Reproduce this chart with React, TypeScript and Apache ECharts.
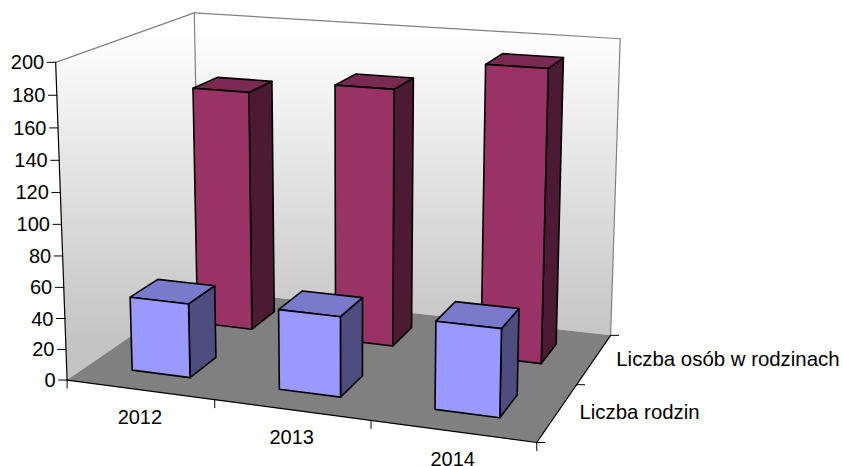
import React, { useEffect, useRef } from "react";
import * as echarts from "echarts";

const categories = ["2012", "2013", "2014"];
const rowNames = ["Liczba rodzin", "Liczba osób w rodzinach"];
const familyCounts = [48, 51, 55];
const peopleCounts = [162, 171, 191];
const valueTicks = [0, 20, 40, 60, 80, 100, 120, 140, 160, 180, 200];
const VALUE_MAX = 200;

const FONT = '20px "Liberation Sans", Arial, sans-serif';
const ROW_FONT = '20.4px "Liberation Sans", Arial, sans-serif';
const GAP = 0.3; // each side of a bar inside its unit cell (gap width 150%)

// Camera calibration of the 3D box: [category pos, row pos, relative height] -> screen.
const CAMERA_REFS: number[][] = [
  [0, 0, 0, 68, 379], [0, 0, 1, 55, 62], [0, 2, 0, 198, 289], [0, 2, 1, 195, 13],
  [3, 2, 0, 610, 335], [3, 2, 1, 620, 39], [3, 0, 0, 537, 442],
  [1, 0, 0, 214, 400], [2, 0, 0, 371, 421], [3, 1, 0, 578, 384],
  [0.3, 0.3, 0, 132.5, 370], [0.7, 0.3, 0, 190.5, 378], [0.7, 0.7, 0, 215.5, 358],
  [1.7, 0.3, 0, 340.7, 396.7], [1.7, 0.7, 0, 362.7, 376.7],
  [2.3, 0.3, 0, 434.7, 409], [2.7, 0.3, 0, 499, 418.7], [2.7, 0.7, 0, 516, 395],
  [0.7, 1.3, 0, 252.5, 329], [0.7, 1.7, 0, 275, 311.7],
  [1.7, 1.3, 0, 392.7, 346.7], [1.7, 1.7, 0, 411, 328],
  [2.7, 1.3, 0, 541.7, 364], [2.7, 1.7, 0, 557, 343],
];

function solve(a: number[][], b: number[]): number[] {
  const n = b.length;
  const m = a.map((r, i) => [...r, b[i]]);
  for (let c = 0; c < n; c++) {
    let p = c;
    for (let r = c + 1; r < n; r++) if (Math.abs(m[r][c]) > Math.abs(m[p][c])) p = r;
    [m[c], m[p]] = [m[p], m[c]];
    for (let r = 0; r < n; r++) {
      if (r === c) continue;
      const f = m[r][c] / m[c][c];
      for (let k = c; k <= n; k++) m[r][k] -= f * m[c][k];
    }
  }
  return m.map((r, i) => r[n] / r[i]);
}

// Least-squares projective camera (11 parameters).
function fitCamera(refs: number[][]): number[] {
  const S = 500;
  const rows: number[][] = [];
  const rhs: number[] = [];
  refs.forEach(([u, v, h, x, y]) => {
    const X = x / S;
    const Y = y / S;
    rows.push([u, v, h, 1, 0, 0, 0, 0, -X * u, -X * v, -X * h]);
    rhs.push(X);
    rows.push([0, 0, 0, 0, u, v, h, 1, -Y * u, -Y * v, -Y * h]);
    rhs.push(Y);
  });
  const n = 11;
  const ata = Array.from({ length: n }, () => new Array(n).fill(0));
  const atb = new Array(n).fill(0);
  rows.forEach((r, i) => {
    for (let a = 0; a < n; a++) {
      atb[a] += r[a] * rhs[i];
      for (let b = 0; b < n; b++) ata[a][b] += r[a] * r[b];
    }
  });
  const p = solve(ata, atb);
  for (let i = 0; i < 8; i++) p[i] *= S;
  return p;
}

const cam = fitCamera(CAMERA_REFS);
const project = (u: number, v: number, h: number): number[] => {
  const w = cam[8] * u + cam[9] * v + cam[10] * h + 1;
  return [
    (cam[0] * u + cam[1] * v + cam[2] * h + cam[3]) / w,
    (cam[4] * u + cam[5] * v + cam[6] * h + cam[7]) / w,
  ];
};

const poly = (points: number[][], fill: any, stroke = "#000", lineWidth = 1.6) => ({
  type: "polygon",
  silent: true,
  shape: { points },
  style: { fill, stroke, lineWidth, lineJoin: "round" },
});
const seg = (a: number[], b: number[], stroke: string, lineWidth = 1.2) => ({
  type: "line",
  silent: true,
  shape: { x1: a[0], y1: a[1], x2: b[0], y2: b[1] },
  style: { stroke, lineWidth, lineCap: "round", fill: "none" },
});
const label = (text: string, x: number, y: number, align: string, font = FONT) => ({
  type: "text",
  silent: true,
  style: { text, x, y, font, fill: "#000", align, verticalAlign: "middle" },
});

function renderFrame() {
  const wall = () =>
    new echarts.graphic.LinearGradient(0, 30, 0, 340, [
      { offset: 0, color: "#ffffff" },
      { offset: 0.65, color: "#d8d8d8" },
      { offset: 1, color: "#c4c4c4" },
    ], true);
  const A0 = project(0, 0, 0);
  const A1 = project(0, 0, 1);
  const B0 = project(0, 2, 0);
  const B1 = project(0, 2, 1);
  const C0 = project(3, 2, 0);
  const C1 = project(3, 2, 1);
  const D0 = project(3, 0, 0);
  const none = "rgba(0,0,0,0)";
  return {
    type: "group",
    children: [
      poly([A0, A1, B1, B0], wall(), none, 0),
      poly([B0, B1, C1, C0], wall(), none, 0),
      seg(A1, B1, "#808080"),
      seg(B1, C1, "#808080"),
      seg(B1, B0, "#808080"),
      seg(C1, C0, "#808080"),
      poly([A0, B0, C0, D0], "#808080", none, 0),
      seg(A1, A0, "#000"),
      seg(A0, D0, "#000"),
      seg(D0, C0, "#000"),
    ],
  };
}

function renderValueTick(_: any, api: any) {
  const tick = api.value(0);
  const h = tick / VALUE_MAX;
  const p = project(0, 0, h);
  return {
    type: "group",
    children: [
      seg([p[0] - 8.5, p[1]], p, "#000", 1),
      label(String(tick), p[0] - 11.5, p[1], "right"),
    ],
  };
}

function renderCategoryAxis(params: any, api: any) {
  const i = api.value(0);
  const p = project(i + 1, 0, 0);
  const c = project(i + 0.5, 0, 0);
  const children: any[] = [seg(p, [p[0], p[1] + 8], "#000", 1), label(categories[i], c[0], c[1] + 27.5, "center")];
  if (params.dataIndex === 0) {
    const s = project(0, 0, 0);
    children.push(seg(s, [s[0], s[1] + 8], "#000", 1));
  }
  return { type: "group", children };
}

function renderRowAxis(params: any, api: any) {
  const j = api.value(0);
  const p = project(3, j + 1, 0);
  const c = project(3, j + 0.5, 0);
  const children: any[] = [seg(p, [p[0] + 8, p[1]], "#000", 1), label(rowNames[j], c[0] + 22, c[1], "left", ROW_FONT)];
  if (params.dataIndex === 0) {
    const s = project(3, 0, 0);
    children.push(seg(s, [s[0] + 8, s[1]], "#000", 1));
  }
  return { type: "group", children };
}

// One 3D bar: the value axis gives the relative height, the camera gives the corners.
const renderBar = (row: number, colors: string[]) => (_: any, api: any) => {
  const i = api.value(0);
  const base = api.coord([i, 0])[1];
  const full = api.coord([i, VALUE_MAX])[1];
  const h = (base - api.coord([i, api.value(1)])[1]) / (base - full);
  const u0 = i + GAP;
  const u1 = i + 1 - GAP;
  const v0 = row + GAP;
  const v1 = row + 1 - GAP;
  return {
    type: "group",
    children: [
      poly([project(u1, v0, 0), project(u1, v1, 0), project(u1, v1, h), project(u1, v0, h)], colors[2]),
      poly([project(u0, v0, h), project(u1, v0, h), project(u1, v1, h), project(u0, v1, h)], colors[1]),
      poly([project(u0, v0, 0), project(u1, v0, 0), project(u1, v0, h), project(u0, v0, h)], colors[0]),
    ],
  };
};

const indexed = (vals: number[]) => vals.map((v, i) => [i, v]);
const common = { type: "custom", clip: false, silent: true, animation: false };

export default function App() {
  const ref = useRef<HTMLDivElement>(null);
  useEffect(() => {
    document.body.style.margin = "0";
    const chart = echarts.init(ref.current!, null, { renderer: "svg" });
    chart.setOption({
      animation: false,
      backgroundColor: "#ffffff",
      tooltip: { show: false },
      grid: { left: 0, right: 0, top: 0, bottom: 0 },
      xAxis: { type: "category", data: categories, show: false },
      yAxis: { type: "value", min: 0, max: VALUE_MAX, interval: 20, show: false },
      series: [
        { ...common, data: [[0, 0]], renderItem: renderFrame, encode: { x: 0, y: 1 } },
        { ...common, data: valueTicks.map((t) => [t, t]), renderItem: renderValueTick, encode: { y: 1 } },
        { ...common, data: indexed([0, 0, 0]), renderItem: renderCategoryAxis, encode: { x: 0, y: 1 } },
        { ...common, data: [[0, 0], [1, 0]], renderItem: renderRowAxis, encode: { x: 0, y: 1 } },
        { ...common, name: rowNames[1], data: indexed(peopleCounts), renderItem: renderBar(1, ["#993366", "#7a2952", "#4d1a33"]), encode: { x: 0, y: 1 } },
        { ...common, name: rowNames[0], data: indexed(familyCounts), renderItem: renderBar(0, ["#9999ff", "#7a7acc", "#4d4d80"]), encode: { x: 0, y: 1 } },
      ],
    });
    return () => chart.dispose();
  }, []);
  return <div ref={ref} style={{ width: 843, height: 466 }} />;
}
